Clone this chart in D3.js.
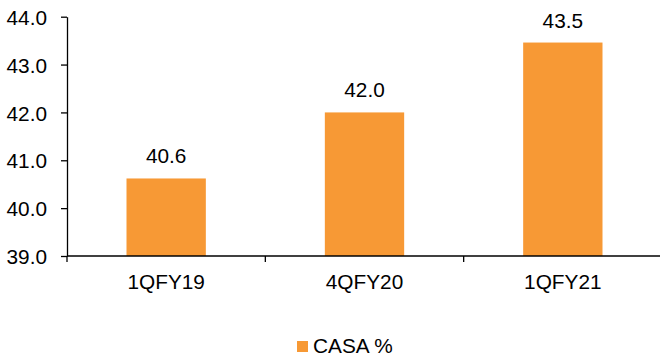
<!DOCTYPE html>
<html><head><meta charset="utf-8">
<script src="https://cdn.jsdelivr.net/npm/d3@7"></script>
<style>body{margin:0;background:#fff}svg{display:block}text{font-family:"Liberation Sans",Arial,sans-serif;fill:#000}</style>
</head><body><svg id="c" width="660" height="358"></svg>
<script>
const categories = ["1QFY19", "4QFY20", "1QFY21"];
const casaValues = [40.62, 42.0, 43.46];
const yTicks = [39, 40, 41, 42, 43, 44];
const seriesName = "CASA %";

const svg = d3.select("#c");
const color = "#F79935";
const fs = 20.8;
const x = d3.scaleBand().domain(categories).range([67, 662]).padding(0);
const y = d3.scaleLinear().domain([39, 44]).range([256, 16.7]);
const bw = x.bandwidth() * 0.4;

// bars
svg.selectAll("rect.bar").data(categories).enter().append("rect")
  .attr("class", "bar")
  .attr("x", d => x(d) + (x.bandwidth() - bw) / 2)
  .attr("width", bw)
  .attr("y", (d, i) => y(casaValues[i]))
  .attr("height", (d, i) => y(39) - y(casaValues[i]))
  .attr("fill", color);

// value labels
svg.selectAll("text.val").data(categories).enter().append("text")
  .attr("class", "val")
  .attr("x", d => x(d) + x.bandwidth() / 2)
  .attr("y", (d, i) => y(casaValues[i]) - 15)
  .attr("text-anchor", "middle")
  .style("font-size", fs + "px")
  .text((d, i) => d3.format(".1f")(casaValues[i]));

// y axis
const yAxis = svg.append("g").attr("transform", "translate(67,0)")
  .call(d3.axisLeft(y).tickValues(yTicks).tickFormat(d3.format(".1f")).tickSize(6).tickSizeOuter(0).tickPadding(14));
yAxis.select(".domain").attr("stroke", "#000").attr("stroke-width", 1.3);
yAxis.selectAll(".tick line").attr("stroke", "#000").attr("stroke-width", 1.3);
yAxis.selectAll(".tick text").style("font-size", fs + "px").attr("font-family", null).attr("dy", "0.37em");

// x axis
const xAxis = svg.append("g").attr("transform", "translate(0,256)")
  .call(d3.axisBottom(x).tickSize(0).tickPadding(18));
xAxis.select(".domain").attr("stroke", "#000").attr("stroke-width", 1.3).attr("d", "M67,0H660");
xAxis.selectAll(".tick text").style("font-size", fs + "px").attr("font-family", null);
// boundary ticks
const bounds = categories.map(d => x(d)).concat([x.range()[1]]).filter(v => v < 660);
xAxis.selectAll("line.b").data(bounds).enter().append("line")
  .attr("class", "b").attr("x1", d => d).attr("x2", d => d).attr("y1", 0).attr("y2", 6)
  .attr("stroke", "#000").attr("stroke-width", 1.3);

// legend
const lg = svg.append("g").attr("transform", "translate(297,341)");
lg.append("rect").attr("width", 11).attr("height", 11).attr("fill", color);
lg.append("text").attr("x", 16).attr("y", 11.7).style("font-size", fs + "px").text(seriesName);
</script></body></html>
